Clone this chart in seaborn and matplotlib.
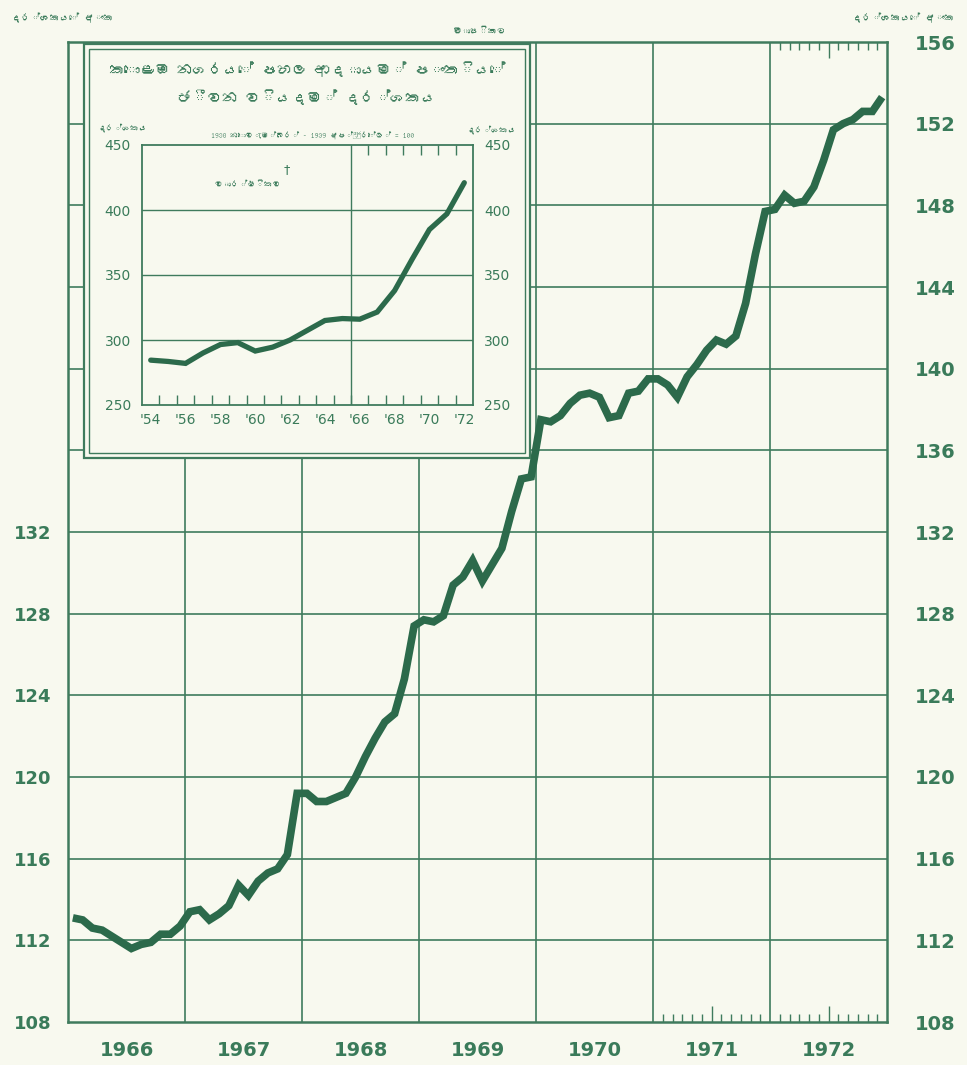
import numpy as np
import pandas as pd
import matplotlib
matplotlib.use("Agg")
import matplotlib.pyplot as plt
import matplotlib.transforms as mtransforms
from matplotlib.patches import Rectangle
from matplotlib import font_manager as fm
import seaborn as sns

# ---------------- data ----------------
years = [1966, 1967, 1968, 1969, 1970, 1971, 1972]
cpi_1966 = [113.1, 113.0, 112.6, 112.5, 112.2, 111.9, 111.6, 111.8, 111.9, 112.3, 112.3, 112.7]
cpi_1967 = [113.4, 113.5, 113.0, 113.3, 113.7, 114.7, 114.2, 114.9, 115.3, 115.5, 116.2, 119.2]
cpi_1968 = [119.2, 118.8, 118.8, 119.0, 119.2, 120.0, 121.0, 121.9, 122.7, 123.1, 124.8, 127.4]
cpi_1969 = [127.7, 127.6, 127.9, 129.4, 129.8, 130.6, 129.6, 130.4, 131.2, 133.0, 134.6, 134.7]
cpi_1970 = [137.5, 137.4, 137.7, 138.3, 138.7, 138.8, 138.6, 137.6, 137.7, 138.8, 138.9, 139.5]
cpi_1971 = [139.5, 139.2, 138.6, 139.6, 140.2, 140.9, 141.4, 141.2, 141.6, 143.2, 145.6, 147.7]
cpi_1972 = [147.8, 148.5, 148.1, 148.2, 148.9, 150.2, 151.7, 152.0, 152.2, 152.6, 152.6, 153.3]
monthly_series = [cpi_1966, cpi_1967, cpi_1968, cpi_1969, cpi_1970, cpi_1971, cpi_1972]

main_yticks = [108, 112, 116, 120, 124, 128, 132, 136, 140, 144, 148, 152, 156]
left_yticks = [108, 112, 116, 120, 124, 128, 132]
year_labels = ["1966", "1967", "1968", "1969", "1970", "1971", "1972"]

inset_years = list(range(1954, 1973))
inset_cpi = [284.5, 283.5, 282.0, 290.0, 296.5, 298.0, 291.5, 294.5, 300.0, 307.5,
             315.0, 316.5, 316.0, 321.5, 338.0, 362.0, 385.0, 397.0, 421.0]
inset_yticks = [250, 300, 350, 400, 450]
inset_xtick_years = [1954, 1956, 1958, 1960, 1962, 1964, 1966, 1968, 1970, 1972]
inset_xtick_labels = ["'54", "'56", "'58", "'60", "'62", "'64", "'66", "'68", "'70", "'72"]

txt_index_no = "දර්ශකයේ අංක"
txt_monthly = "මාසිකව"
txt_title1 = "කොළඹ නගරයේ පහල ආදායම් පංතියේ"
txt_title2 = "ජීවන වියදම් දර්ශකය"
txt_index = "දර්ශකය"
txt_base = "1938 නොවැම්බර් - 1939 අප්‍රේල් = 100"
txt_annual = "වාර්ෂිකව"

# ---------------- styling ----------------
BG = "#f8f9ef"
LINE = "#2c6a4b"
GRID = "#3f7b5d"
TXT = "#3a7b5a"

sns.set_theme(style="white")
plt.rcParams["font.family"] = ["DejaVu Sans"]


def find_sinhala_font():
    try:
        from fontTools.ttLib import TTFont
    except Exception:
        return None
    for path in fm.findSystemFonts():
        try:
            f = TTFont(path, fontNumber=0, lazy=True)
            cmap = f.getBestCmap()
            if cmap and ord("ක") in cmap:
                fm.fontManager.addfont(path)
                return fm.FontProperties(fname=path).get_name()
        except Exception:
            continue
    return None


sin_font = find_sinhala_font()
SIN_FAMILY = [sin_font, "DejaVu Sans"] if sin_font else ["DejaVu Sans"]

W, H = 967, 1065
fig = plt.figure(figsize=(W / 100, H / 100), dpi=100, facecolor=BG)


def fx(px):
    return px / W


def fy(py):
    return 1 - py / H


# ---------------- main axes ----------------
ax_l, ax_r, ax_t, ax_b = 68, 887, 42, 1022
ax = fig.add_axes([fx(ax_l), fy(ax_b), fx(ax_r - ax_l), (ax_b - ax_t) / H])
ax.set_facecolor(BG)

rows = []
for yr, vals in zip(years, monthly_series):
    for m, v in enumerate(vals):
        rows.append({"t": yr + (m + 0.5) / 12.0, "cpi": v})
df = pd.DataFrame(rows)

ax.set_xlim(years[0], years[-1] + 1)
ax.set_ylim(main_yticks[0], main_yticks[-1])

# grid
for yv in main_yticks[1:-1]:
    ax.axhline(yv, color=GRID, lw=1.2, zorder=1)
for yr in years[1:]:
    ax.axvline(yr, color=GRID, lw=1.2, zorder=1)

sns.lineplot(data=df, x="t", y="cpi", ax=ax, color=LINE, lw=5.5, zorder=3,
             solid_joinstyle="miter", solid_capstyle="butt")

# axis ticks / labels (left: 108-132 only)
ax.set_xticks([y + 0.5 for y in years])
ax.set_xticklabels(year_labels, fontweight="bold")
ax.set_yticks(left_yticks)
ax.set_yticklabels([str(v) for v in left_yticks], fontweight="bold")
ax.tick_params(axis="x", length=0, pad=14, labelsize=14, labelcolor=TXT)
ax.tick_params(axis="y", length=0, labelsize=13, labelcolor=TXT, pad=12)
ax.set_xlabel("")
ax.set_ylabel("")
for sp in ax.spines.values():
    sp.set_color(GRID)
    sp.set_linewidth(1.8)

# right labels on a twin axis
ax2 = ax.twinx()
ax2.set_ylim(main_yticks[0], main_yticks[-1])
ax2.set_yticks(main_yticks)
ax2.set_yticklabels([str(v) for v in main_yticks], fontweight="bold")
ax2.tick_params(axis="y", length=0, labelsize=14, labelcolor=TXT, pad=20)
ax2.grid(False)
for sp in ax2.spines.values():
    sp.set_visible(False)

# small monthly ticks (bottom 1971-72, top 1972)
trans = mtransforms.blended_transform_factory(ax.transData, ax.transAxes)
for yr in [1971, 1972]:
    for k in range(1, 12):
        h = 0.016 if k == 6 else 0.008
        ax.vlines(yr + k / 12.0, 0, h, transform=trans, color=GRID, lw=1.0)
for k in range(1, 12):
    h = 0.016 if k == 6 else 0.008
    ax.vlines(1972 + k / 12.0, 1 - h, 1, transform=trans, color=GRID, lw=1.0)

# header texts
fig.text(fx(62), fy(18), txt_index_no, ha="center", va="center", fontsize=7,
         color=TXT, family=SIN_FAMILY)
fig.text(fx(903), fy(18), txt_index_no, ha="center", va="center", fontsize=7,
         color=TXT, family=SIN_FAMILY)
fig.text(fx(480), fy(31), txt_monthly, ha="center", va="center", fontsize=6.5,
         color=TXT, family=SIN_FAMILY)

# ---------------- inset box ----------------
box_l, box_t, box_r, box_b = 84, 44, 530, 458
outer = Rectangle((fx(box_l), fy(box_b)), fx(box_r - box_l), (box_b - box_t) / H,
                  transform=fig.transFigure, facecolor=BG, edgecolor=GRID, lw=1.6,
                  zorder=5, clip_on=False)
ax2.add_artist(outer)
inner = Rectangle((fx(box_l + 5), fy(box_b - 5)), fx(box_r - box_l - 10),
                  (box_b - box_t - 10) / H, transform=fig.transFigure,
                  facecolor="none", edgecolor=GRID, lw=1.0, zorder=6, clip_on=False)
ax2.add_artist(inner)

# ---------------- inset axes ----------------
in_l, in_r, in_t, in_b = 142, 473, 145, 405
ax_in = fig.add_axes([fx(in_l), fy(in_b), fx(in_r - in_l), (in_b - in_t) / H])
ax_in.set_facecolor(BG)
ax_in.set_xlim(inset_years[0] - 0.5, inset_years[-1] + 0.5)
ax_in.set_ylim(inset_yticks[0], inset_yticks[-1])
for yv in inset_yticks[1:-1]:
    ax_in.axhline(yv, color=GRID, lw=1.0, zorder=1)
ax_in.axvline(1965.5, color=GRID, lw=1.0, zorder=1)

sns.lineplot(x=inset_years, y=inset_cpi, ax=ax_in, color=LINE, lw=3.8, zorder=3,
             solid_joinstyle="miter")

ax_in.set_xticks(inset_xtick_years)
ax_in.set_xticklabels(inset_xtick_labels)
ax_in.set_yticks(inset_yticks)
ax_in.set_yticklabels([str(v) for v in inset_yticks])
ax_in.tick_params(axis="x", length=0, pad=6, labelsize=10, labelcolor=TXT)
ax_in.tick_params(axis="y", length=0, pad=8, labelsize=10, labelcolor=TXT,
                  labelleft=True, labelright=True)
ax_in.set_xlabel("")
ax_in.set_ylabel("")
for sp in ax_in.spines.values():
    sp.set_color(GRID)
    sp.set_linewidth(1.3)
trans_in = mtransforms.blended_transform_factory(ax_in.transData, ax_in.transAxes)
for yr in inset_years[:-1]:
    ax_in.vlines(yr + 0.5, 0, 0.04, transform=trans_in, color=GRID, lw=1.0)
for yr in range(1966, 1972):
    ax_in.vlines(yr + 0.5, 0.96, 1.0, transform=trans_in, color=GRID, lw=1.0)

# inset texts
fig.text(fx(307), fy(69), txt_title1, ha="center", va="center", fontsize=11,
         color=TXT, family=SIN_FAMILY)
fig.text(fx(307), fy(97), txt_title2, ha="center", va="center", fontsize=11,
         color=TXT, family=SIN_FAMILY)
fig.text(fx(123), fy(128), txt_index, ha="center", va="center", fontsize=6,
         color=TXT, family=SIN_FAMILY)
fig.text(fx(492), fy(130), txt_index, ha="center", va="center", fontsize=6,
         color=TXT, family=SIN_FAMILY)
fig.text(fx(313), fy(136), txt_base, ha="center", va="center", fontsize=5.5,
         color=TXT, family=SIN_FAMILY, fontweight="bold")
fig.text(fx(248), fy(184), txt_annual, ha="center", va="center", fontsize=6,
         color=TXT, family=SIN_FAMILY)
fig.text(fx(287), fy(170), "†", ha="center", va="center", fontsize=9, color=TXT)

fig.savefig("out.png", dpi=100, facecolor=BG)
